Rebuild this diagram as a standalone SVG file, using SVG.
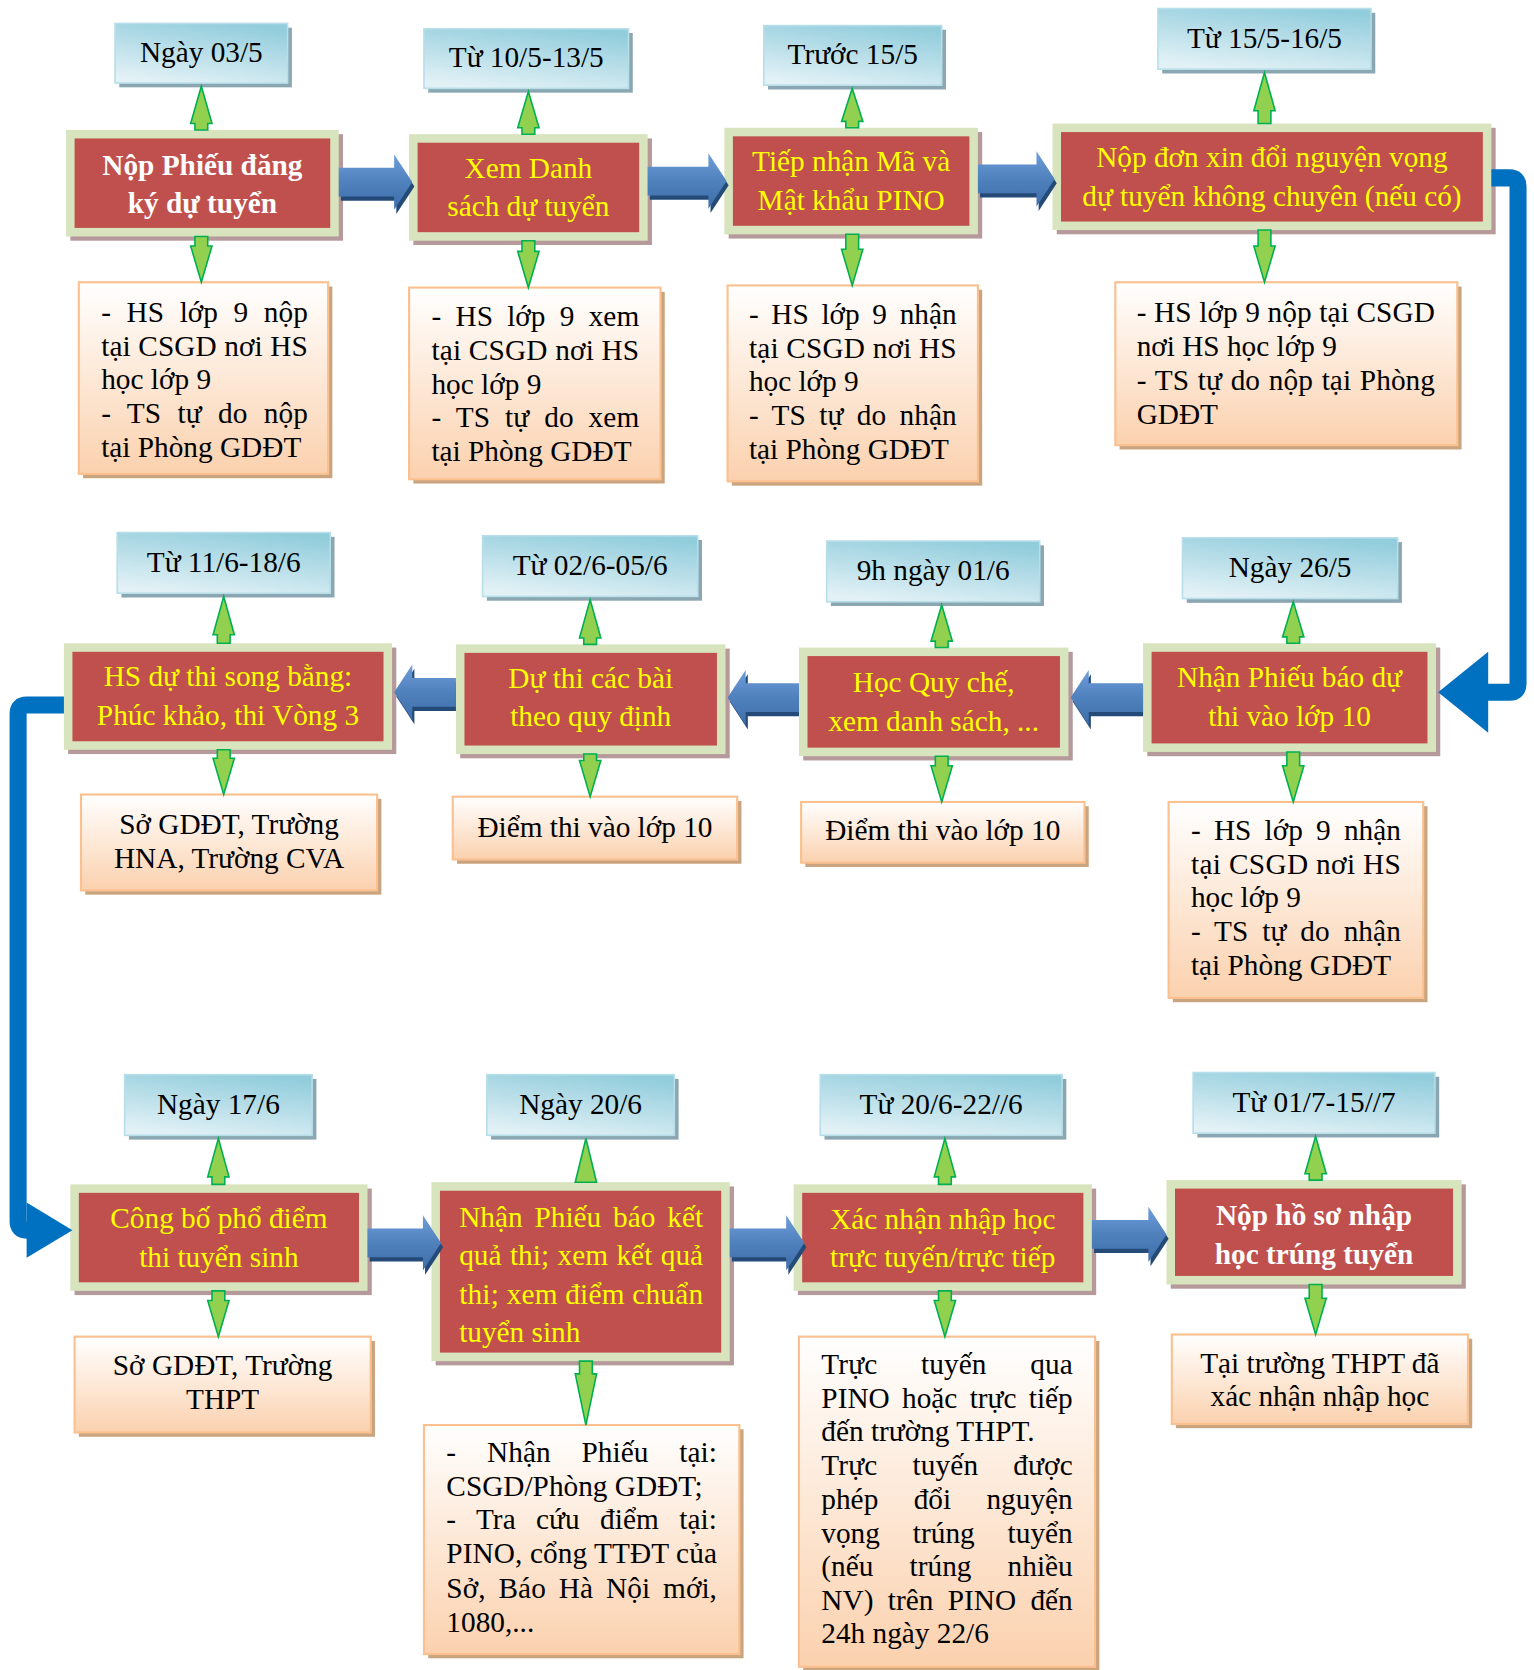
<svg xmlns="http://www.w3.org/2000/svg" width="1534" height="1670" viewBox="0 0 1534 1670">
<defs>
<linearGradient id="gDate" x1="0.7" y1="0" x2="0.3" y2="1">
<stop offset="0" stop-color="#92cddc"/><stop offset="1" stop-color="#e2f1f6"/>
</linearGradient>
<linearGradient id="gInfo" x1="0" y1="0" x2="0" y2="1">
<stop offset="0" stop-color="#ffffff"/><stop offset="1" stop-color="#fbd1ae"/>
</linearGradient>
<linearGradient id="gBlue" x1="0" y1="0" x2="0" y2="1">
<stop offset="0" stop-color="#6f9edb"/><stop offset="0.5" stop-color="#4f81bd"/><stop offset="1" stop-color="#3e6eaa"/>
</linearGradient>
<style>
.dsh{fill:#8aa6b0}
.db{fill:url(#gDate);stroke:#b7dee9;stroke-width:1.5}
.msh{fill:#b69a9b}
.mo{fill:#d7e4bd}
.mi{fill:#c0504d}
.ish{fill:#c9a47f}
.ib{fill:url(#gInfo);stroke:#fac08f;stroke-width:2}
.t{font-family:"Liberation Serif","Times New Roman",serif;font-size:27.5px}
.k{fill:#000}
.y{fill:#ffff00}
.w{fill:#ffffff;font-weight:bold}
.c{text-anchor:middle}
.ga{fill:#92d050;stroke:#00b050;stroke-width:1.5;stroke-linejoin:miter}
.bsh{fill:#244a78}
.ba{fill:url(#gBlue)}
.cn{fill:none;stroke:#0070c0;stroke-width:16;stroke-linejoin:round}
.ch{fill:#0070c0}
</style>
</defs>
<rect x="0" y="0" width="1534" height="1670" fill="#ffffff"/>
<g transform="scale(1.065278 1.065051)">
<!-- date nodes -->
<g id="d1"><rect class="dsh" x="112" y="26" width="162" height="56"/><rect class="db" x="108" y="22" width="162" height="56"/><text class="t k c" x="189" y="58">Ngày 03/5</text></g>
<g id="d2"><rect class="dsh" x="402" y="31" width="192" height="56"/><rect class="db" x="398" y="27" width="192" height="56"/><text class="t k c" x="494" y="63">Từ 10/5-13/5</text></g>
<g id="d3"><rect class="dsh" x="721" y="28" width="167" height="56"/><rect class="db" x="717" y="24" width="167" height="56"/><text class="t k c" x="800.5" y="60">Trước 15/5</text></g>
<g id="d4"><rect class="dsh" x="1091" y="12" width="200" height="57"/><rect class="db" x="1087" y="8" width="200" height="57"/><text class="t k c" x="1187" y="45">Từ 15/5-16/5</text></g>
<g id="d5"><rect class="dsh" x="114" y="504" width="200" height="57"/><rect class="db" x="110" y="500" width="200" height="57"/><text class="t k c" x="210" y="537">Từ 11/6-18/6</text></g>
<g id="d6"><rect class="dsh" x="457" y="507" width="202" height="57"/><rect class="db" x="453" y="503" width="202" height="57"/><text class="t k c" x="554" y="540">Từ 02/6-05/6</text></g>
<g id="d7"><rect class="dsh" x="780" y="512" width="200" height="57"/><rect class="db" x="776" y="508" width="200" height="57"/><text class="t k c" x="876" y="545">9h ngày 01/6</text></g>
<g id="d8"><rect class="dsh" x="1114" y="509" width="202" height="57"/><rect class="db" x="1110" y="505" width="202" height="57"/><text class="t k c" x="1211" y="542">Ngày 26/5</text></g>
<g id="d9"><rect class="dsh" x="121" y="1013" width="176" height="57"/><rect class="db" x="117" y="1009" width="176" height="57"/><text class="t k c" x="205" y="1046">Ngày 17/6</text></g>
<g id="d10"><rect class="dsh" x="461" y="1013" width="176" height="57"/><rect class="db" x="457" y="1009" width="176" height="57"/><text class="t k c" x="545" y="1046">Ngày 20/6</text></g>
<g id="d11"><rect class="dsh" x="774" y="1013" width="227" height="57"/><rect class="db" x="770" y="1009" width="227" height="57"/><text class="t k c" x="883.5" y="1046">Từ 20/6-22//6</text></g>
<g id="d12"><rect class="dsh" x="1124" y="1011" width="227" height="57"/><rect class="db" x="1120" y="1007" width="227" height="57"/><text class="t k c" x="1233.5" y="1044">Từ 01/7-15//7</text></g>
<!-- main nodes -->
<g id="m1"><rect class="msh" x="66" y="126" width="256" height="100"/><rect class="mo" x="62" y="122" width="256" height="100"/><rect class="mi" x="70" y="130" width="240" height="84"/><text class="t w c" x="190" y="164">Nộp Phiếu đăng</text><text class="t w c" x="190" y="200">ký dự tuyển</text></g>
<g id="m2"><rect class="msh" x="388" y="130" width="224" height="100"/><rect class="mo" x="384" y="126" width="224" height="100"/><rect class="mi" x="392" y="134" width="208" height="84"/><text class="t y c" x="496" y="167">Xem Danh</text><text class="t y c" x="496" y="203">sách dự tuyển</text></g>
<g id="m3"><rect class="msh" x="684" y="124" width="238" height="100"/><rect class="mo" x="680" y="120" width="238" height="100"/><rect class="mi" x="688" y="128" width="222" height="84"/><text class="t y c" x="799" y="161">Tiếp nhận Mã và</text><text class="t y c" x="799" y="197">Mật khẩu PINO</text></g>
<g id="m4"><rect class="msh" x="992" y="120" width="412" height="100"/><rect class="mo" x="988" y="116" width="412" height="100"/><rect class="mi" x="996" y="124" width="396" height="84"/><text class="t y c" x="1194" y="157">Nộp đơn xin đổi nguyện vọng</text><text class="t y c" x="1194" y="193">dự tuyển không chuyên (nếu có)</text></g>
<g id="m5"><rect class="msh" x="64" y="608" width="308" height="100"/><rect class="mo" x="60" y="604" width="308" height="100"/><rect class="mi" x="68" y="612" width="292" height="84"/><text class="t y c" x="214" y="644">HS dự thi song bằng:</text><text class="t y c" x="214" y="681">Phúc khảo, thi Vòng 3</text></g>
<g id="m6"><rect class="msh" x="432" y="609" width="253" height="103"/><rect class="mo" x="428" y="605" width="253" height="103"/><rect class="mi" x="436" y="613" width="237" height="87"/><text class="t y c" x="554.5" y="646">Dự thi các bài</text><text class="t y c" x="554.5" y="682">theo quy định</text></g>
<g id="m7"><rect class="msh" x="754" y="612" width="253" height="102"/><rect class="mo" x="750" y="608" width="253" height="102"/><rect class="mi" x="758" y="616" width="237" height="86"/><text class="t y c" x="876.5" y="650">Học Quy chế,</text><text class="t y c" x="876.5" y="686">xem danh sách, ...</text></g>
<g id="m8"><rect class="msh" x="1077" y="608" width="275" height="102"/><rect class="mo" x="1073" y="604" width="275" height="102"/><rect class="mi" x="1081" y="612" width="259" height="86"/><text class="t y c" x="1210.5" y="645">Nhận Phiếu báo dự</text><text class="t y c" x="1210.5" y="682">thi vào lớp 10</text></g>
<g id="m9"><rect class="msh" x="70" y="1116" width="279" height="100"/><rect class="mo" x="66" y="1112" width="279" height="100"/><rect class="mi" x="74" y="1120" width="263" height="84"/><text class="t y c" x="205.5" y="1153">Công bố phổ điểm</text><text class="t y c" x="205.5" y="1190">thi tuyển sinh</text></g>
<g id="m10"><rect class="msh" x="409" y="1114" width="280" height="168"/><rect class="mo" x="405" y="1110" width="280" height="168"/><rect class="mi" x="413" y="1118" width="264" height="152"/>
<text class="t y" x="431" y="1152" textLength="229" lengthAdjust="spacing" word-spacing="4.3">Nhận Phiếu báo kết</text>
<text class="t y" x="431" y="1188" textLength="229" lengthAdjust="spacing" word-spacing="1">quả thi; xem kết quả</text>
<text class="t y" x="431" y="1224" textLength="229" lengthAdjust="spacing">thi; xem điểm chuẩn</text>
<text class="t y" x="431" y="1260">tuyển sinh</text></g>
<g id="m11"><rect class="msh" x="749" y="1116" width="280" height="100"/><rect class="mo" x="745" y="1112" width="280" height="100"/><rect class="mi" x="753" y="1120" width="264" height="84"/><text class="t y c" x="885" y="1154">Xác nhận nhập học</text><text class="t y c" x="885" y="1190">trực tuyến/trực tiếp</text></g>
<g id="m12"><rect class="msh" x="1099" y="1112" width="277" height="98"/><rect class="mo" x="1095" y="1108" width="277" height="98"/><rect class="mi" x="1103" y="1116" width="261" height="82"/><text class="t w c" x="1233.5" y="1150">Nộp hồ sơ nhập</text><text class="t w c" x="1233.5" y="1187">học trúng tuyển</text></g>
<!-- info nodes -->
<g id="i1"><rect class="ish" x="78" y="269" width="234" height="180"/><rect class="ib" x="74" y="265" width="234" height="180"/>
<text class="t k" x="95" y="302" textLength="194" lengthAdjust="spacing" word-spacing="7.7">- HS lớp 9 nộp</text>
<text class="t k" x="95" y="334" textLength="194" lengthAdjust="spacing">tại CSGD nơi HS</text>
<text class="t k" x="95" y="365.5">học lớp 9</text>
<text class="t k" x="95" y="397.5" textLength="194" lengthAdjust="spacing" word-spacing="8.4">- TS tự do nộp</text>
<text class="t k" x="95" y="429">tại Phòng GDĐT</text></g>
<g id="i2"><rect class="ish" x="388" y="274" width="236" height="180"/><rect class="ib" x="384" y="270" width="236" height="180"/>
<text class="t k" x="405" y="306" textLength="195" lengthAdjust="spacing" word-spacing="6.5">- HS lớp 9 xem</text>
<text class="t k" x="405" y="338" textLength="195" lengthAdjust="spacing">tại CSGD nơi HS</text>
<text class="t k" x="405" y="369.5">học lớp 9</text>
<text class="t k" x="405" y="401" textLength="195" lengthAdjust="spacing" word-spacing="7.1">- TS tự do xem</text>
<text class="t k" x="405" y="433">tại Phòng GDĐT</text></g>
<g id="i3"><rect class="ish" x="687" y="272" width="235" height="184"/><rect class="ib" x="683" y="268" width="235" height="184"/>
<text class="t k" x="703" y="304" textLength="195" lengthAdjust="spacing" word-spacing="5">- HS lớp 9 nhận</text>
<text class="t k" x="703" y="336" textLength="195" lengthAdjust="spacing">tại CSGD nơi HS</text>
<text class="t k" x="703" y="367.5">học lớp 9</text>
<text class="t k" x="703" y="399" textLength="195" lengthAdjust="spacing" word-spacing="5.5">- TS tự do nhận</text>
<text class="t k" x="703" y="431">tại Phòng GDĐT</text></g>
<g id="i4"><rect class="ish" x="1051" y="269" width="321" height="153"/><rect class="ib" x="1047" y="265" width="321" height="153"/>
<text class="t k" x="1067" y="302" textLength="280" lengthAdjust="spacing">- HS lớp 9 nộp tại CSGD</text>
<text class="t k" x="1067" y="334">nơi HS học lớp 9</text>
<text class="t k" x="1067" y="366" textLength="280" lengthAdjust="spacing" word-spacing="1.3">- TS tự do nộp tại Phòng</text>
<text class="t k" x="1067" y="398">GDĐT</text></g>
<g id="i5"><rect class="ish" x="80" y="750" width="278" height="90"/><rect class="ib" x="76" y="746" width="278" height="90"/>
<text class="t k c" x="215" y="783">Sở GDĐT, Trường</text><text class="t k c" x="215" y="815">HNA, Trường CVA</text></g>
<g id="i6"><rect class="ish" x="429" y="752" width="267" height="59"/><rect class="ib" x="425" y="748" width="267" height="59"/>
<text class="t k c" x="558.5" y="786">Điểm thi vào lớp 10</text></g>
<g id="i7"><rect class="ish" x="756" y="757" width="266" height="57"/><rect class="ib" x="752" y="753" width="266" height="57"/>
<text class="t k c" x="885" y="789">Điểm thi vào lớp 10</text></g>
<g id="i8"><rect class="ish" x="1101" y="757" width="239" height="184"/><rect class="ib" x="1097" y="753" width="239" height="184"/>
<text class="t k" x="1118" y="789" textLength="197" lengthAdjust="spacing" word-spacing="5.5">- HS lớp 9 nhận</text>
<text class="t k" x="1118" y="821" textLength="197" lengthAdjust="spacing">tại CSGD nơi HS</text>
<text class="t k" x="1118" y="852">học lớp 9</text>
<text class="t k" x="1118" y="884" textLength="197" lengthAdjust="spacing" word-spacing="6">- TS tự do nhận</text>
<text class="t k" x="1118" y="915">tại Phòng GDĐT</text></g>
<g id="i9"><rect class="ish" x="74" y="1259" width="278" height="90"/><rect class="ib" x="70" y="1255" width="278" height="90"/>
<text class="t k c" x="209" y="1291">Sở GDĐT, Trường</text><text class="t k c" x="209" y="1323">THPT</text></g>
<g id="i10"><rect class="ish" x="402" y="1342" width="296" height="215"/><rect class="ib" x="398" y="1338" width="296" height="215"/>
<text class="t k" x="419" y="1373" textLength="254" lengthAdjust="spacing" word-spacing="22">- Nhận Phiếu tại:</text>
<text class="t k" x="419" y="1405">CSGD/Phòng GDĐT;</text>
<text class="t k" x="419" y="1436" textLength="254" lengthAdjust="spacing" word-spacing="12">- Tra cứu điểm tại:</text>
<text class="t k" x="419" y="1468" textLength="254" lengthAdjust="spacing">PINO, cổng TTĐT của</text>
<text class="t k" x="419" y="1500" textLength="254" lengthAdjust="spacing" word-spacing="5.3">Sở, Báo Hà Nội mới,</text>
<text class="t k" x="419" y="1532">1080,...</text></g>
<g id="i11"><rect class="ish" x="754" y="1259" width="278" height="310"/><rect class="ib" x="750" y="1255" width="278" height="310"/>
<text class="t k" x="771" y="1290" textLength="236" lengthAdjust="spacing" word-spacing="34">Trực tuyến qua</text>
<text class="t k" x="771" y="1322" textLength="236" lengthAdjust="spacing" word-spacing="4.6">PINO hoặc trực tiếp</text>
<text class="t k" x="771" y="1353">đến trường THPT.</text>
<text class="t k" x="771" y="1385" textLength="236" lengthAdjust="spacing" word-spacing="25.7">Trực tuyến được</text>
<text class="t k" x="771" y="1417" textLength="236" lengthAdjust="spacing" word-spacing="26.3">phép đổi nguyện</text>
<text class="t k" x="771" y="1449" textLength="236" lengthAdjust="spacing" word-spacing="24">vọng trúng tuyển</text>
<text class="t k" x="771" y="1480" textLength="236" lengthAdjust="spacing" word-spacing="27">(nếu trúng nhiều</text>
<text class="t k" x="771" y="1512" textLength="236" lengthAdjust="spacing" word-spacing="6.6">NV) trên PINO đến</text>
<text class="t k" x="771" y="1543">24h ngày 22/6</text></g>
<g id="i12"><rect class="ish" x="1104" y="1257" width="278" height="84"/><rect class="ib" x="1100" y="1253" width="278" height="84"/>
<text class="t k c" x="1239" y="1289">Tại trường THPT đã</text><text class="t k c" x="1239" y="1320">xác nhận nhập học</text></g>
<!-- connectors -->
<g id="connectors">
<polygon class="ga" points="189,81 199,116 195,116 195,122 183,122 183,116 179,116"/>
<polygon class="ga" points="183,222 195,222 195,231 199,231 189,265 179,231 183,231"/>
<polygon class="ga" points="496,86 506,120 502,120 502,126 490,126 490,120 486,120"/>
<polygon class="ga" points="490,226 502,226 502,236 506,236 496,270 486,236 490,236"/>
<polygon class="ga" points="800,83 810,114 806,114 806,120 794,120 794,114 790,114"/>
<polygon class="ga" points="794,220 806,220 806,234 810,234 800,268 790,234 794,234"/>
<polygon class="ga" points="1187,68 1197,104 1193,104 1193,116 1181,116 1181,104 1177,104"/>
<polygon class="ga" points="1181,216 1193,216 1193,231 1197,231 1187,265 1177,231 1181,231"/>
<polygon class="ga" points="210,560 220,596 216,596 216,604 204,604 204,596 200,596"/>
<polygon class="ga" points="204,704 216,704 216,712 220,712 210,746 200,712 204,712"/>
<polygon class="ga" points="554,563 564,599 560,599 560,605 548,605 548,599 544,599"/>
<polygon class="ga" points="548,708 560,708 560,714 564,714 554,748 544,714 548,714"/>
<polygon class="ga" points="884,568 894,602 890,602 890,608 878,608 878,602 874,602"/>
<polygon class="ga" points="878,710 890,710 890,719 894,719 884,753 874,719 878,719"/>
<polygon class="ga" points="1214,565 1224,598 1220,598 1220,604 1208,604 1208,598 1204,598"/>
<polygon class="ga" points="1208,706 1220,706 1220,719 1224,719 1214,753 1204,719 1208,719"/>
<polygon class="ga" points="205,1069 215,1105 211,1105 211,1112 199,1112 199,1105 195,1105"/>
<polygon class="ga" points="199,1212 211,1212 211,1221 215,1221 205,1255 195,1221 199,1221"/>
<polygon class="ga" points="550,1069 560,1110 540,1110"/>
<polygon class="ga" points="544,1278 556,1278 556,1290 560,1290 550,1338 540,1290 544,1290"/>
<polygon class="ga" points="887,1069 897,1105 893,1105 893,1112 881,1112 881,1105 877,1105"/>
<polygon class="ga" points="881,1212 893,1212 893,1221 897,1221 887,1255 877,1221 881,1221"/>
<polygon class="ga" points="1235,1067 1245,1102 1241,1102 1241,1108 1229,1108 1229,1102 1225,1102"/>
<polygon class="ga" points="1229,1206 1241,1206 1241,1219 1245,1219 1235,1253 1225,1219 1229,1219"/>
<!-- blue block arrows -->
<g transform="translate(2,4)">
<polygon class="bsh" points="318,157.5 370,157.5 370,145 387,171 370,197 370,184.5 318,184.5"/>
<polygon class="bsh" points="608,156.5 665,156.5 665,144 682,170 665,196 665,183.5 608,183.5"/>
<polygon class="bsh" points="918,154.5 973,154.5 973,142 990,168 973,194 973,181.5 918,181.5"/>
<polygon class="bsh" points="1071,641.5 1022,641.5 1022,629 1005,655 1022,681 1022,668.5 1071,668.5"/>
<polygon class="bsh" points="748,641.5 700,641.5 700,629 683,655 700,681 700,668.5 748,668.5"/>
<polygon class="bsh" points="426,636.5 387,636.5 387,624 370,650 387,676 387,663.5 426,663.5"/>
<polygon class="bsh" points="345,1153.5 397,1153.5 397,1141 414,1167 397,1193 397,1180.5 345,1180.5"/>
<polygon class="bsh" points="685,1153.5 738,1153.5 738,1141 755,1167 738,1193 738,1180.5 685,1180.5"/>
<polygon class="bsh" points="1025,1145.5 1078,1145.5 1078,1133 1095,1159 1078,1185 1078,1172.5 1025,1172.5"/>
</g>
<polygon class="ba" points="318,157.5 370,157.5 370,145 387,171 370,197 370,184.5 318,184.5"/>
<polygon class="ba" points="608,156.5 665,156.5 665,144 682,170 665,196 665,183.5 608,183.5"/>
<polygon class="ba" points="918,154.5 973,154.5 973,142 990,168 973,194 973,181.5 918,181.5"/>
<polygon class="ba" points="1073,641.5 1022,641.5 1022,629 1005,655 1022,681 1022,668.5 1073,668.5"/>
<polygon class="ba" points="750,641.5 700,641.5 700,629 683,655 700,681 700,668.5 750,668.5"/>
<polygon class="ba" points="428,636.5 387,636.5 387,624 370,650 387,676 387,663.5 428,663.5"/>
<polygon class="ba" points="345,1153.5 397,1153.5 397,1141 414,1167 397,1193 397,1180.5 345,1180.5"/>
<polygon class="ba" points="685,1153.5 738,1153.5 738,1141 755,1167 738,1193 738,1180.5 685,1180.5"/>
<polygon class="ba" points="1025,1145.5 1078,1145.5 1078,1133 1095,1159 1078,1185 1078,1172.5 1025,1172.5"/>
<!-- elbow connectors between rows -->
<path class="cn" d="M1400,167 H1417 Q1425,167 1425,175 V642 Q1425,650 1417,650 H1394"/>
<polygon class="ch" points="1397,612 1350,650 1397,688"/>
<path class="cn" d="M60,662 H25 Q17,662 17,670 V1147 Q17,1155 25,1155 H28"/>
<polygon class="ch" points="25,1129 68,1155 25,1181"/>
</g>
</g>
</svg>
